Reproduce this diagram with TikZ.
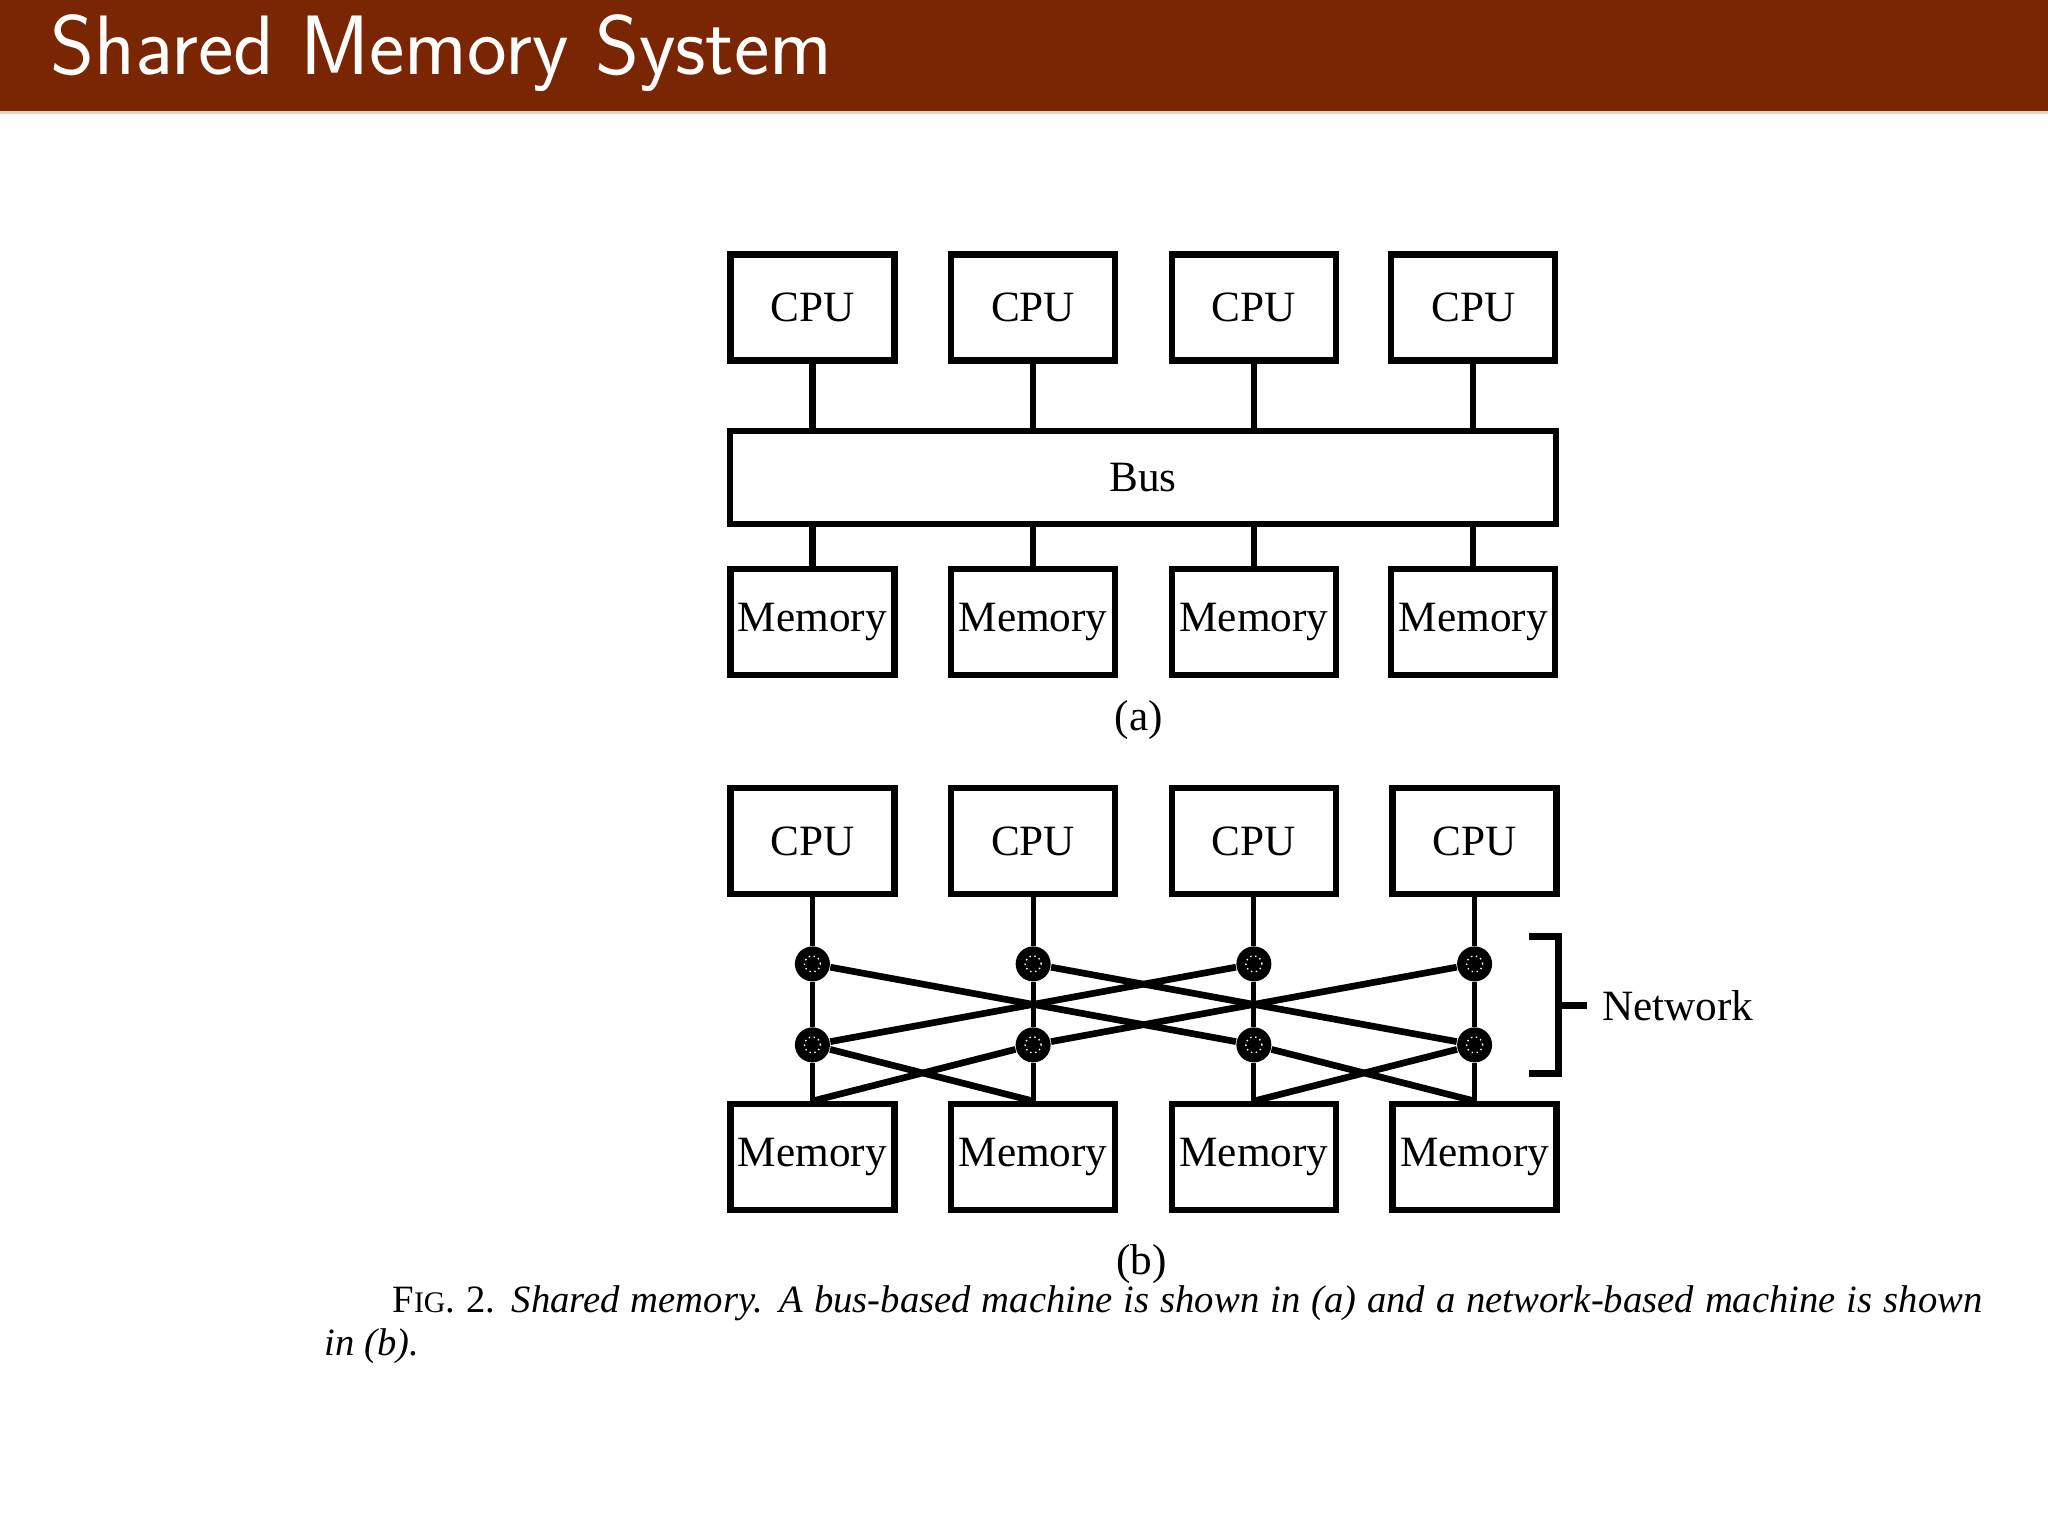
\documentclass[tikz,border=0pt]{standalone}
\usepackage{fontspec}
\setmainfont{Liberation Serif}
\usepackage{tikz}
\usetikzlibrary{positioning}
\definecolor{titlered}{RGB}{122,38,2}
\definecolor{titleline}{RGB}{228,214,186}
\tikzset{
    %Define style for boxes
    unitbox/.style={
           rectangle,
           draw=black, line width=1.8pt,
           minimum width=16.4mm,
           minimum height=10.6mm,
           inner sep=0pt,
           font=\fontsize{12.3}{14}\selectfont,
           text centered},
    busbox/.style={
           unitbox,
           minimum width=82.6mm,
           minimum height=9.3mm},
    switch/.style={
           circle,
           fill=black,
           minimum size=3.5mm,
           inner sep=0pt,
           path picture={\draw[white, densely dotted, line width=0.4pt]
               (path picture bounding box.center) circle (0.8mm);}},
    tag/.style={
           font=\fontsize{12.3}{14}\selectfont},
    % Define line styles
    wire/.style={line width=1.8pt},
    netwire/.style={line width=1.4pt},
    crosswire/.style={line width=1.9pt},
    capline/.style={
           anchor=base west,
           inner sep=0pt,
           font=\fontsize{11}{13}\selectfont}
}

\begin{document}
\begin{tikzpicture}[x=0.130612mm,y=-0.130612mm]
\useasboundingbox (0,0) rectangle (1568,1176);
 %title bar
\fill[titlered] (0,0) rectangle (1568,85);
\fill[titleline] (0,85) rectangle (1568,87);
\node[anchor=base west, inner sep=0pt, text=white, font=\sffamily\fontsize{24}{27}\selectfont] (title) at (38,57) {Shared Memory System};
 %bus-based machine
\node[unitbox] (cpua1) at (622,235.5) {CPU};
\node[unitbox] (cpua2) at (791,235.5) {CPU};
\node[unitbox] (cpua3) at (960,235.5) {CPU};
\node[unitbox] (cpua4) at (1128,235.5) {CPU};
\node[busbox] (bus) at (875,365.5) {\raisebox{-0.6mm}{Bus}};
\node[unitbox] (mema1) at (622,476) {Memory};
\node[unitbox] (mema2) at (791,476) {Memory};
\node[unitbox] (mema3) at (960,476) {Memory};
\node[unitbox] (mema4) at (1128,476) {Memory};
\node[tag] (laba) at (872,551) {(a)};
\path[wire]
    (cpua1) edge (cpua1 |- bus.north)
    (cpua2) edge (cpua2 |- bus.north)
    (cpua3) edge (cpua3 |- bus.north)
    (cpua4) edge (cpua4 |- bus.north)
    (mema1 |- bus.south) edge (mema1)
    (mema2 |- bus.south) edge (mema2)
    (mema3 |- bus.south) edge (mema3)
    (mema4 |- bus.south) edge (mema4);
 %network-based machine
\node[unitbox] (cpub1) at (622,644) {CPU};
\node[unitbox] (cpub2) at (791,644) {CPU};
\node[unitbox] (cpub3) at (960,644) {CPU};
\node[unitbox] (cpub4) at (1129,644) {CPU};
\node[switch] (sw1) at (622,738) {};
\node[switch] (sw2) at (791,738) {};
\node[switch] (sw3) at (960,738) {};
\node[switch] (sw4) at (1129,738) {};
\node[switch] (sw5) at (622,800) {};
\node[switch] (sw6) at (791,800) {};
\node[switch] (sw7) at (960,800) {};
\node[switch] (sw8) at (1129,800) {};
\node[unitbox] (memb1) at (622,886) {Memory};
\node[unitbox] (memb2) at (791,886) {Memory};
\node[unitbox] (memb3) at (960,886) {Memory};
\node[unitbox] (memb4) at (1129,886) {Memory};
\node[tag] (labb) at (874,968) {(b)};
\path[netwire]
    (cpub1) edge (sw1) (sw1) edge (sw5) (sw5) edge (memb1)
    (cpub2) edge (sw2) (sw2) edge (sw6) (sw6) edge (memb2)
    (cpub3) edge (sw3) (sw3) edge (sw7) (sw7) edge (memb3)
    (cpub4) edge (sw4) (sw4) edge (sw8) (sw8) edge (memb4);
\path[crosswire]
    (sw1) edge (sw7)
    (sw2) edge (sw8)
    (sw3) edge (sw5)
    (sw4) edge (sw6)
    (sw5) edge (memb2.north)
    (sw6) edge (memb1.north)
    (sw7) edge (memb4.north)
    (sw8) edge (memb3.north);
 %network bracket
\node[tag, anchor=west, inner sep=0pt] (net) at (1226,770) {Network};
\coordinate (brmid) at (1193,770);
\draw[line width=1.9pt] (1171,717) -| (1193,822) -- (1171,822);
\draw[line width=1.9pt] (brmid) -- ([xshift=-1.4mm]net.west);
 %caption
\node[capline] (cap1) at (300,1005) {\makebox[159mm][s]{F{\fontsize{8.5}{10}\selectfont IG}. 2. \textit{Shared memory. A bus-based machine is shown in (a) and a network-based machine is shown}}};
\node[capline] (cap2) at (248,1038) {\textit{in (b).}};
\end{tikzpicture}
\end{document}
